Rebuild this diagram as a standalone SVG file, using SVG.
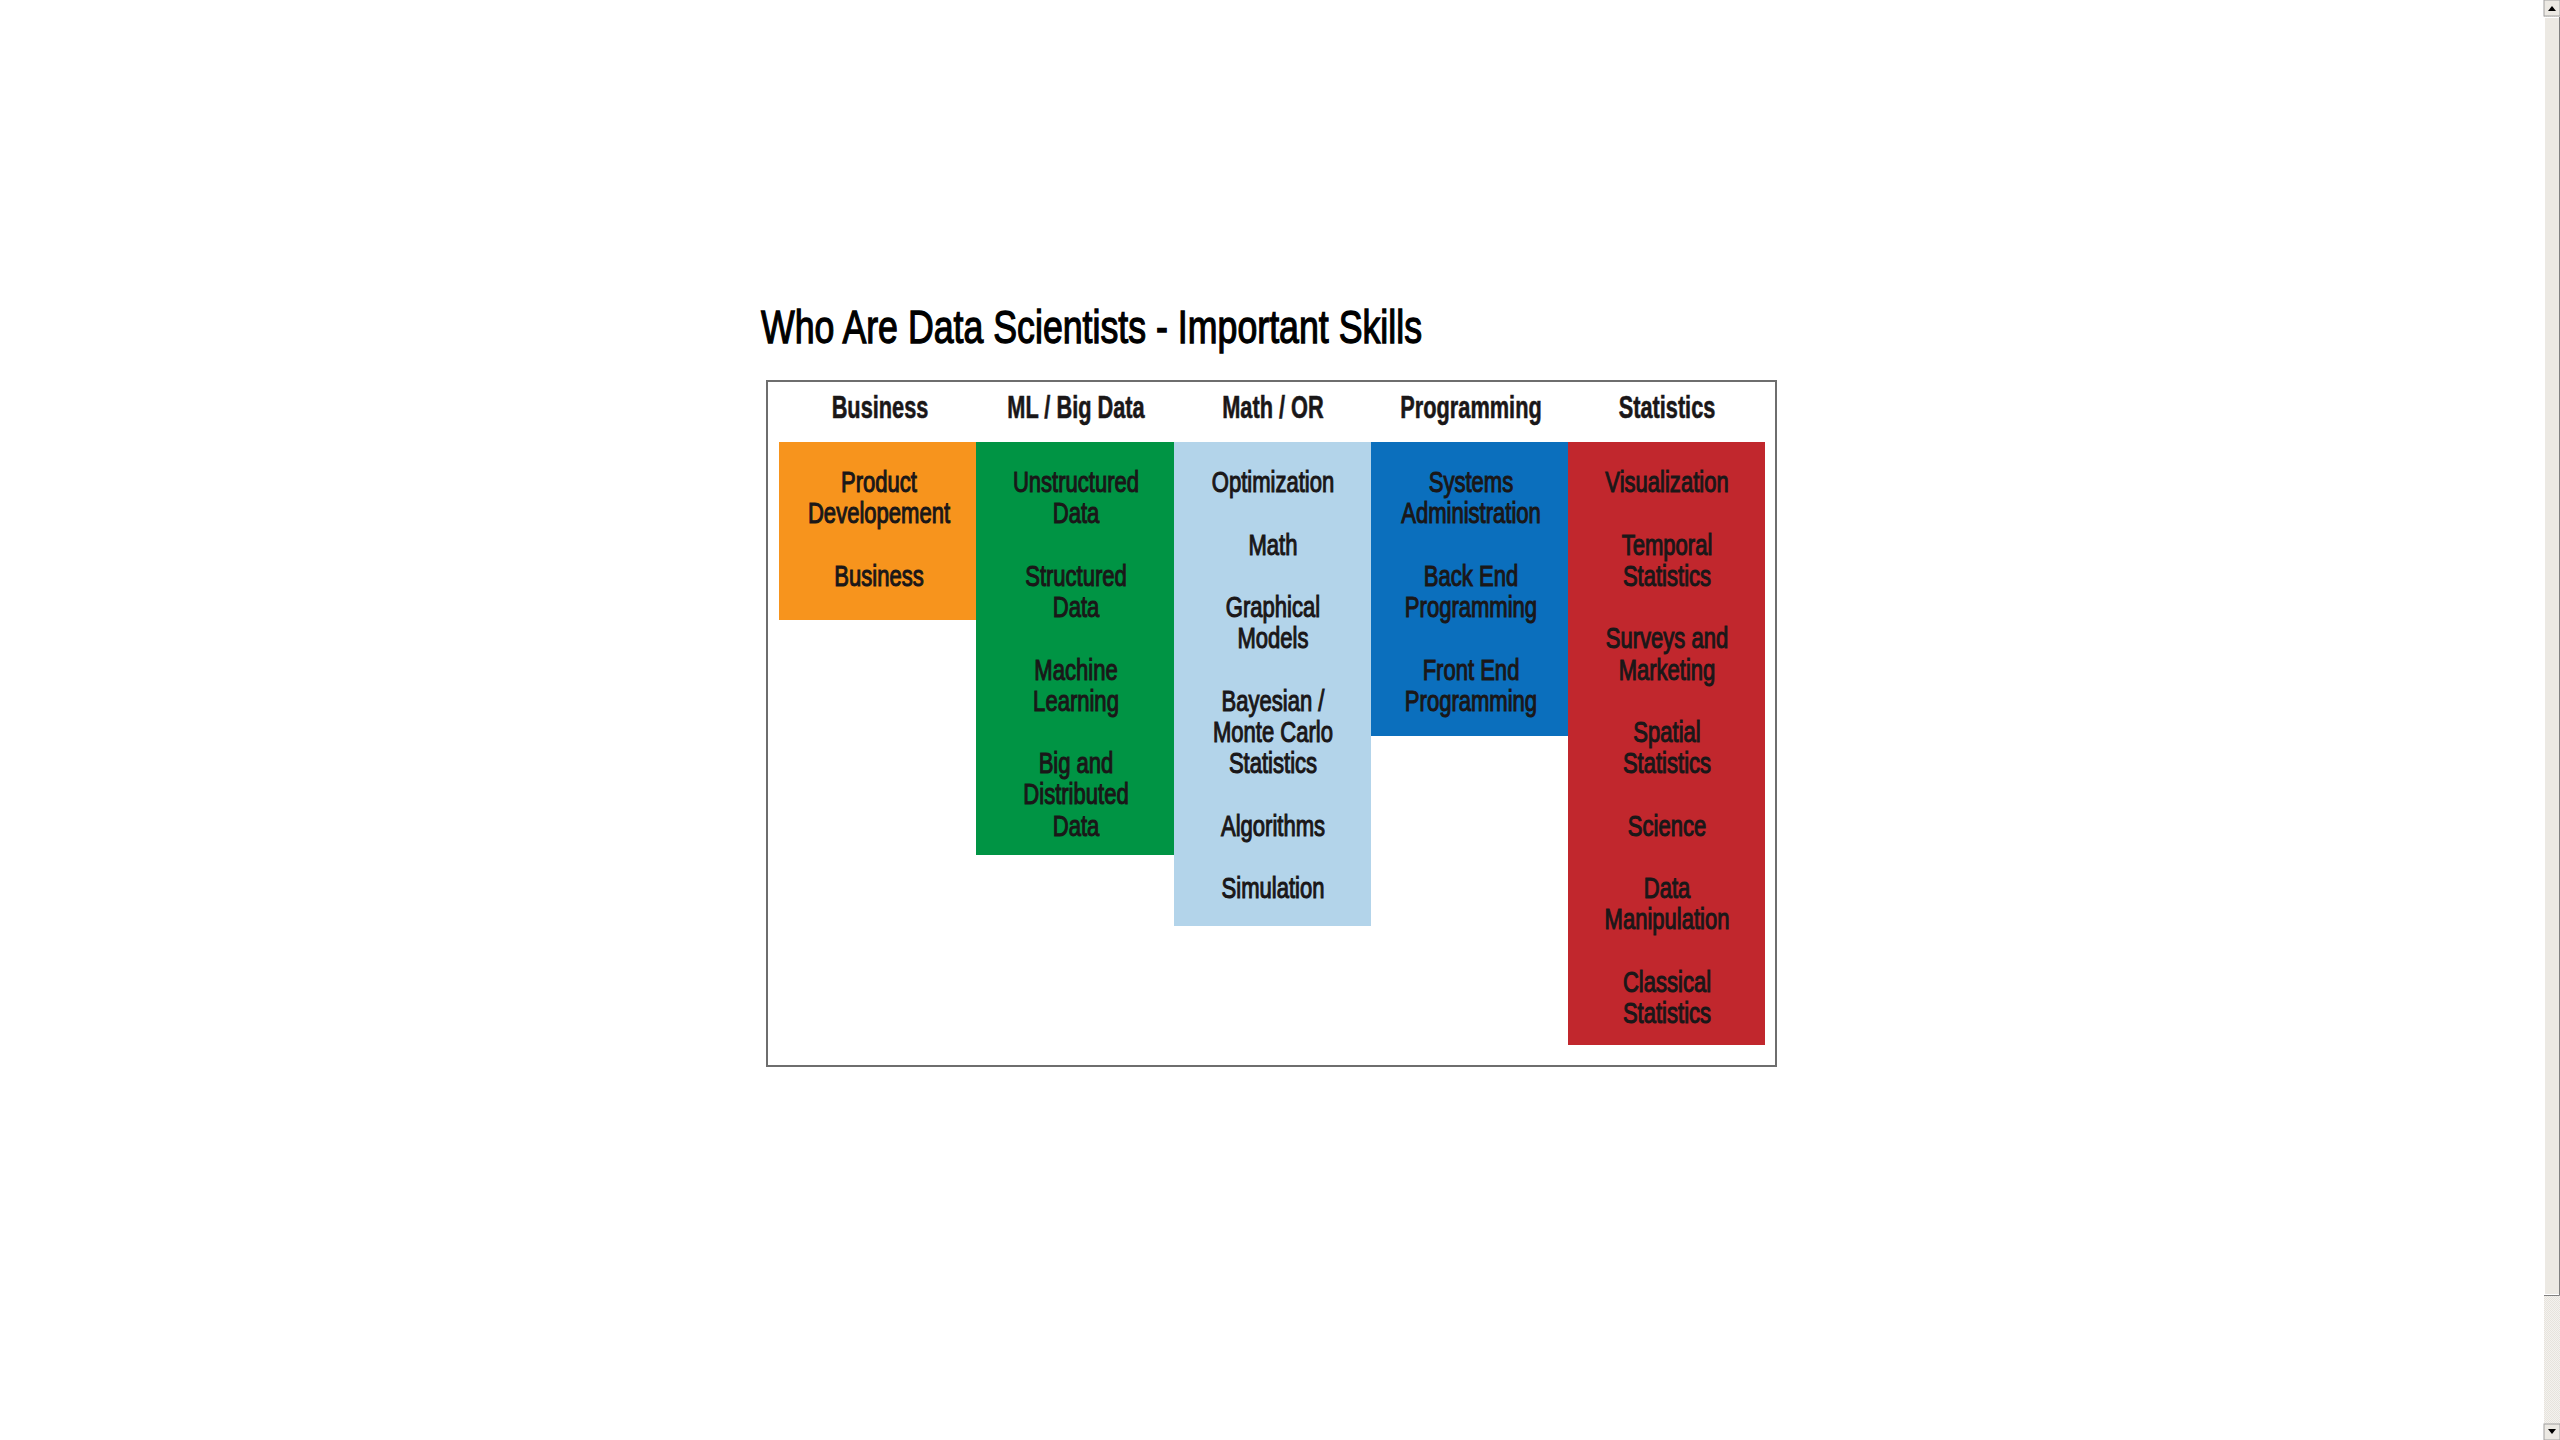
<svg xmlns="http://www.w3.org/2000/svg" width="2560" height="1440" viewBox="0 0 2560 1440">
  <style>
    .title { font-family: "Liberation Sans", Arial, sans-serif; font-size: 47px; fill: #000; stroke: #000; stroke-width: 1.3; }
    .head { font-family: "Liberation Sans", Arial, sans-serif; font-size: 32px; font-weight: bold; fill: #1a1718; stroke: #1a1718; stroke-width: 0.6; text-anchor: middle; }
    .item { font-family: "Liberation Sans", Arial, sans-serif; font-size: 29px; fill: #1a1718; stroke: #1a1718; stroke-width: 1.1; text-anchor: middle; }
    .frame { fill: #fff; stroke: #6e6e6e; stroke-width: 2; }
  </style>
  <defs>
    <pattern id="track" width="2" height="2" patternUnits="userSpaceOnUse">
      <rect width="2" height="2" fill="#f4f2ee"/>
      <rect width="1" height="1" fill="#e6e3dd"/>
      <rect x="1" y="1" width="1" height="1" fill="#e6e3dd"/>
    </pattern>
  </defs>
  <rect width="2560" height="1440" fill="#fff"/>

  <text class="title" x="761" y="343" textLength="661" lengthAdjust="spacingAndGlyphs">Who Are Data Scientists - Important Skills</text>

  <rect class="frame" x="767" y="381" width="1009" height="685"/>

  <!-- column headers -->
  <g id="headers">
    <g transform="translate(880,0) scale(0.68,1)"><text class="head" x="0" y="418">Business</text></g>
    <g transform="translate(1076,0) scale(0.68,1)"><text class="head" x="0" y="418">ML / Big Data</text></g>
    <g transform="translate(1273,0) scale(0.68,1)"><text class="head" x="0" y="418">Math / OR</text></g>
    <g transform="translate(1471,0) scale(0.68,1)"><text class="head" x="0" y="418">Programming</text></g>
    <g transform="translate(1667,0) scale(0.68,1)"><text class="head" x="0" y="418">Statistics</text></g>
  </g>

  <!-- Business -->
  <g id="col-business">
    <rect x="779" y="442" width="197" height="178" fill="#f7941d"/>
    <g transform="translate(879,0) scale(0.76,1)">
      <text class="item" x="0" y="492">Product</text>
      <text class="item" x="0" y="523">Developement</text>
      <text class="item" x="0" y="586">Business</text>
    </g>
  </g>

  <!-- ML / Big Data -->
  <g id="col-ml">
    <rect x="976" y="442" width="198" height="413" fill="#009444"/>
    <g transform="translate(1076,0) scale(0.76,1)">
      <text class="item" x="0" y="492">Unstructured</text>
      <text class="item" x="0" y="523">Data</text>
      <text class="item" x="0" y="586">Structured</text>
      <text class="item" x="0" y="617">Data</text>
      <text class="item" x="0" y="680">Machine</text>
      <text class="item" x="0" y="711">Learning</text>
      <text class="item" x="0" y="773">Big and</text>
      <text class="item" x="0" y="804">Distributed</text>
      <text class="item" x="0" y="836">Data</text>
    </g>
  </g>

  <!-- Math / OR -->
  <g id="col-math">
    <rect x="1174" y="442" width="197" height="484" fill="#b3d4ea"/>
    <g transform="translate(1273,0) scale(0.76,1)">
      <text class="item" x="0" y="492">Optimization</text>
      <text class="item" x="0" y="555">Math</text>
      <text class="item" x="0" y="617">Graphical</text>
      <text class="item" x="0" y="648">Models</text>
      <text class="item" x="0" y="711">Bayesian /</text>
      <text class="item" x="0" y="742">Monte Carlo</text>
      <text class="item" x="0" y="773">Statistics</text>
      <text class="item" x="0" y="836">Algorithms</text>
      <text class="item" x="0" y="898">Simulation</text>
    </g>
  </g>

  <!-- Programming -->
  <g id="col-programming">
    <rect x="1371" y="442" width="197" height="294" fill="#0b6fbd"/>
    <g transform="translate(1471,0) scale(0.76,1)">
      <text class="item" x="0" y="492">Systems</text>
      <text class="item" x="0" y="523">Administration</text>
      <text class="item" x="0" y="586">Back End</text>
      <text class="item" x="0" y="617">Programming</text>
      <text class="item" x="0" y="680">Front End</text>
      <text class="item" x="0" y="711">Programming</text>
    </g>
  </g>

  <!-- Statistics -->
  <g id="col-statistics">
    <rect x="1568" y="442" width="197" height="603" fill="#c1272d"/>
    <g transform="translate(1667,0) scale(0.76,1)">
      <text class="item" x="0" y="492">Visualization</text>
      <text class="item" x="0" y="555">Temporal</text>
      <text class="item" x="0" y="586">Statistics</text>
      <text class="item" x="0" y="648">Surveys and</text>
      <text class="item" x="0" y="680">Marketing</text>
      <text class="item" x="0" y="742">Spatial</text>
      <text class="item" x="0" y="773">Statistics</text>
      <text class="item" x="0" y="836">Science</text>
      <text class="item" x="0" y="898">Data</text>
      <text class="item" x="0" y="929">Manipulation</text>
      <text class="item" x="0" y="992">Classical</text>
      <text class="item" x="0" y="1023">Statistics</text>
    </g>
  </g>

  <!-- window scrollbar -->
  <g id="scrollbar">
    <rect x="2544" y="0" width="16" height="1440" fill="url(#track)"/>
    <rect x="2544" y="0" width="16" height="16" fill="#ece9e3" stroke="#a0a0a0" stroke-width="1"/>
    <path d="M2548 11 L2552 6 L2556 11 Z" fill="#000"/>
    <rect x="2544.5" y="17.5" width="15" height="1277" fill="#ece9e3" stroke="#fff" stroke-width="1"/>
    <path d="M2559.5 17 V1295.5 H2544" fill="none" stroke="#808080" stroke-width="1"/>
    <rect x="2544" y="1424" width="16" height="16" fill="#ece9e3" stroke="#a0a0a0" stroke-width="1"/>
    <path d="M2548 1429 L2556 1429 L2552 1434 Z" fill="#000"/>
  </g>
</svg>
